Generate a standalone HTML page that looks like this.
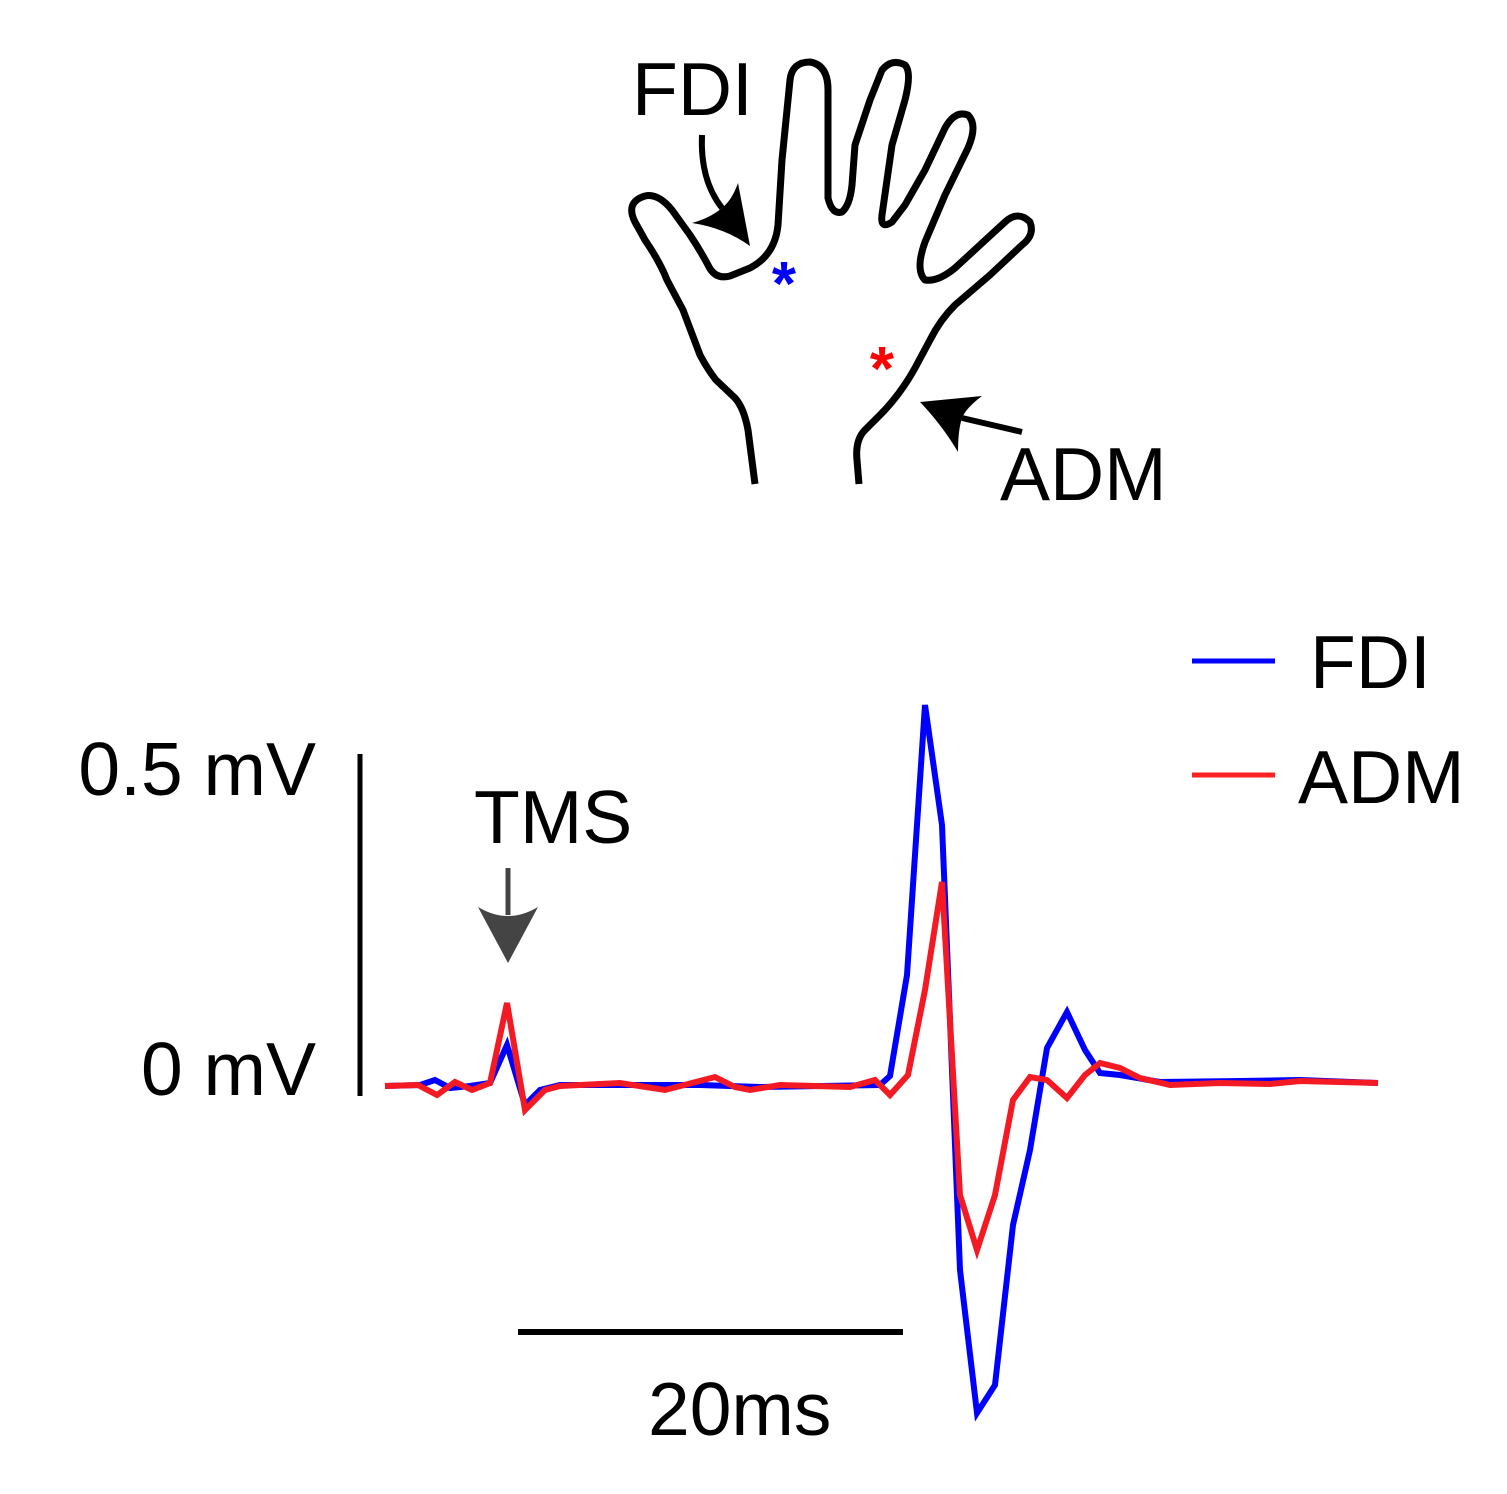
<!DOCTYPE html>
<html><head><meta charset="utf-8"><style>
html,body{margin:0;padding:0;background:#fff}
svg{display:block}
text{font-family:"Liberation Sans",sans-serif;font-size:75px;fill:#000}
</style></head><body>
<svg width="1507" height="1494" viewBox="0 0 1507 1494" xmlns="http://www.w3.org/2000/svg">
<path d="M755,484 L748,430 Q744,408 735,398 L716,380 Q708,370 700,355 L683,310 L667,280 Q660,262 645,240 L635,222 Q625,202 645,196 Q658,193 672,210 L690,235 Q700,250 708,265 Q715,280 730,276 L750,268 Q775,255 778,225 L782,160 L790,80 Q792,62 810,62 Q828,65 828,90 L828,198 Q832,215 842,212 Q850,205 852,185 L855,145 L870,100 L882,70 Q892,58 905,65 Q912,72 905,100 L892,145 L882,215 Q880,230 892,222 L905,205 L925,170 L945,128 Q955,110 968,115 Q978,125 968,148 L945,195 L925,242 Q915,270 925,280 Q938,282 955,268 L1005,222 Q1018,210 1030,222 Q1035,235 1022,245 L990,275 L955,305 Q940,320 930,340 L915,368 Q900,395 880,415 L865,430 Q855,440 857,460 L859,484" fill="none" stroke="#000" stroke-width="7" stroke-linejoin="round"/>
<path d="M702,135 Q700,180 722,208" fill="none" stroke="#000" stroke-width="6"/>
<path d="M750,246 L738,183 Q732,200 722,208 Q710,218 692,223 Q725,228 750,246 Z" fill="#000"/>
<line x1="1022" y1="432" x2="962" y2="418" stroke="#000" stroke-width="6"/>
<path d="M920,402 L982,396 Q966,408 962,418 Q958,430 958,452 Q942,425 920,402 Z" fill="#000"/>
<text x="784" y="305" style="fill:#00f;font-size:62px;font-weight:bold" text-anchor="middle">*</text>
<text x="882" y="390" style="fill:#f00;font-size:62px;font-weight:bold" text-anchor="middle">*</text>
<text x="632" y="115">FDI</text>
<text x="1000" y="500">ADM</text>
<line x1="1192" y1="661" x2="1275" y2="661" stroke="#00f" stroke-width="5"/>
<line x1="1192" y1="775" x2="1275" y2="775" stroke="#f22" stroke-width="5"/>
<text x="1310" y="688">FDI</text>
<text x="1298" y="803">ADM</text>
<text x="316" y="795" text-anchor="end">0.5 mV</text>
<text x="316" y="1095" text-anchor="end">0 mV</text>
<text x="474" y="843">TMS</text>
<text x="648" y="1435">20ms</text>
<line x1="360" y1="754" x2="360" y2="1096" stroke="#000" stroke-width="5"/>
<line x1="518" y1="1332" x2="903" y2="1332" stroke="#000" stroke-width="6"/>
<line x1="508" y1="868" x2="508" y2="915" stroke="#444" stroke-width="5"/>
<path d="M508,963 L478,907 Q508,925 538,907 Z" fill="#444"/>
<polyline fill="none" stroke="#00f" stroke-width="6" stroke-linejoin="miter" points="385,1086 420,1085 435,1080 450,1088 470,1086 490,1083 507,1045 525,1105 540,1090 560,1085 620,1085 700,1085 760,1087 880,1085 890,1076 907,975 925,705 942,825 950,1020 960,1270 977,1413 995,1385 1013,1225 1030,1150 1047,1048 1067,1012 1085,1050 1100,1073 1120,1075 1160,1082 1240,1081 1300,1080 1378,1083"/>
<polyline fill="none" stroke="#f31a24" stroke-width="6" stroke-linejoin="miter" points="385,1086 418,1085 437,1095 455,1082 472,1090 490,1083 507,1003 525,1110 545,1090 560,1086 620,1083 665,1090 715,1077 735,1087 750,1090 780,1085 850,1087 875,1080 890,1095 908,1075 925,990 942,882 960,1195 977,1250 995,1195 1013,1100 1030,1077 1047,1080 1067,1098 1085,1075 1100,1063 1120,1068 1140,1078 1170,1085 1220,1083 1270,1084 1300,1081 1378,1083"/>
</svg>
</body></html>
